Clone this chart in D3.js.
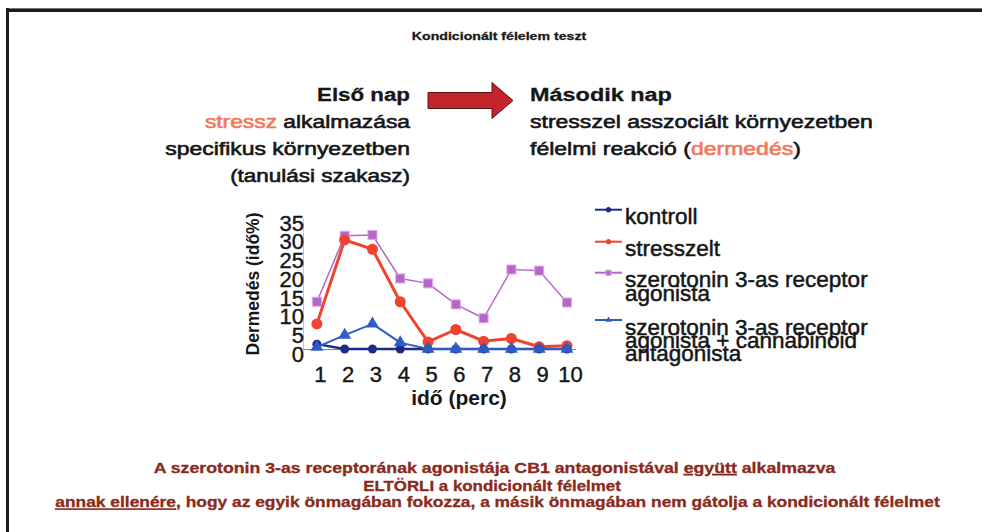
<!DOCTYPE html>
<html>
  <head>
    <meta charset="utf-8" />
    <title>Kondicionált félelem teszt</title>
    <script src="https://d3js.org/d3.v7.min.js"></script>
    <style>
      body { margin: 0; background: #fff; }
      svg { display: block; font-family: "Liberation Sans", Arial, sans-serif; }
    </style>
  </head>
  <body>
    <svg id="chart"></svg>
    <script>
      // data
      const minutes = [1, 2, 3, 4, 5, 6, 7, 8, 9, 10];
      const kontroll = [1.3, 0, 0, 0, 0, 0, 0, 0, 0, 0];
      const stresszelt = [6.7, 29.1, 26.6, 12.6, 1.9, 5.2, 2.1, 2.8, 0.6, 0.9];
      const agonista = [12.6, 30.2, 30.4, 18.8, 17.5, 11.9, 8.2, 21.2, 20.9, 12.4];
      const kombinalt = [0.5, 3.7, 6.7, 1.7, 0, 0, 0, 0, 0, 0];
      const yTicks = [0, 5, 10, 15, 20, 25, 30, 35];

      const seriesNames = [
        ["kontroll"],
        ["stresszelt"],
        ["szerotonin 3-as receptor", "agonista"],
        ["szerotonin 3-as receptor", "agonista + cannabinoid", "antagonista"]
      ];

      const W = 982, H = 532;
      const svg = d3.select("#chart").attr("width", W).attr("height", H);

      // stretch a text (wrapped in a g) horizontally so it spans a given width
      function fitText(g, x, target, anchor) {
        const w = g.node().getBBox().width;
        const s = target / w;
        g.attr("transform", "translate(" + x + ",0) scale(" + s + ",1)");
        g.select("text").attr("text-anchor", anchor);
      }
      function line(parent, baseline, size, weight, color, parts, sw) {
        const g = parent.append("g");
        const t = g.append("text")
          .attr("x", 0).attr("y", baseline)
          .attr("font-size", size).attr("font-weight", weight)
          .attr("fill", color);
        if (sw) t.attr("stroke", color).attr("stroke-width", sw);
        parts.forEach(function (p) {
          const ts = t.append("tspan").text(p.t);
          if (p.c) ts.attr("fill", p.c).attr("stroke", p.c);
          if (p.u) ts.attr("text-decoration", "underline");
        });
        return g;
      }

      // frame
      svg.append("rect").attr("x", 6).attr("y", 8).attr("width", W - 6).attr("height", 1).attr("fill", "#777");
      svg.append("rect").attr("x", 6).attr("y", 9).attr("width", W - 6).attr("height", 3).attr("fill", "#1c1a1a");
      svg.append("rect").attr("x", 6).attr("y", 8).attr("width", 3).attr("height", H - 8).attr("fill", "#1c1a1a");

      // title
      let g = line(svg, 40.5, 11, "bold", "#1a1a1a", [{ t: "Kondicionált félelem teszt" }], 0.3);
      g.select("text").attr("text-anchor", "middle");
      fitText(g, 499, 175, "middle");

      // header blocks
      const salmon = "#f2785a";
      const ink = "#161616";
      g = line(svg, 101, 18.5, "bold", ink, [{ t: "Első nap" }], 0.3);
      g.select("text").attr("text-anchor", "end");
      fitText(g, 410, 93, "end");
      g = line(svg, 128, 18.5, "normal", ink, [{ t: "stressz", c: salmon }, { t: " alkalmazása" }], 0.6);
      g.select("text").attr("text-anchor", "end");
      fitText(g, 410, 206, "end");
      g = line(svg, 155, 18.5, "normal", ink, [{ t: "specifikus környezetben" }], 0.6);
      g.select("text").attr("text-anchor", "end");
      fitText(g, 410, 245, "end");
      g = line(svg, 182, 18.5, "normal", ink, [{ t: "(tanulási szakasz)" }], 0.6);
      g.select("text").attr("text-anchor", "end");
      fitText(g, 410, 180, "end");

      g = line(svg, 101, 18.5, "bold", ink, [{ t: "Második nap" }], 0.3);
      fitText(g, 530, 142, "start");
      g = line(svg, 128, 18.5, "normal", ink, [{ t: "stresszel asszociált környezetben" }], 0.6);
      fitText(g, 530, 343, "start");
      g = line(svg, 155, 18.5, "normal", ink, [{ t: "félelmi reakció (" }, { t: "dermedés", c: salmon }, { t: ")" }], 0.6);
      fitText(g, 530, 271, "start");

      // arrow
      svg.append("path")
        .attr("d", "M428,92.5 L492,92.5 L492,82.5 L513,100.5 L492,118.5 L492,108.5 L428,108.5 Z")
        .attr("fill", "#c3252a").attr("stroke", "#5a1414").attr("stroke-width", 1);

      // chart
      const x = d3.scaleLinear().domain([0.5, 10.3]).range([303, 575.3]);
      const y = d3.scaleLinear().domain([0, 35]).range([349, 217.75]);

      const yAxis = svg.append("g")
        .attr("transform", "translate(303,0)")
        .call(d3.axisLeft(y).tickValues(yTicks).tickSize(0).tickPadding(0));
      yAxis.select(".domain").attr("stroke", "#bcc6d8").attr("stroke-width", 1);
      yAxis.selectAll("text")
        .attr("font-size", 22).attr("font-family", "Liberation Sans, Arial, sans-serif")
        .attr("fill", ink).attr("stroke", ink).attr("stroke-width", 0.4)
        .attr("dy", "0.56em").attr("x", 1);

      const xAxis = svg.append("g")
        .attr("transform", "translate(0," + y(0) + ")")
        .call(d3.axisBottom(x).tickValues(minutes).tickSize(0).tickPadding(17));
      xAxis.select(".domain").attr("stroke", "#5f86c4").attr("stroke-width", 1.2);
      xAxis.selectAll("text")
        .attr("font-size", 22).attr("font-family", "Liberation Sans, Arial, sans-serif")
        .attr("fill", ink).attr("stroke", ink).attr("stroke-width", 0.4).attr("dx", 3);

      svg.append("text")
        .attr("x", 459).attr("y", 405)
        .attr("text-anchor", "middle").attr("font-size", 21).attr("font-weight", "bold")
        .attr("fill", ink).text("idő (perc)");

      svg.append("text")
        .attr("transform", "translate(259,284) rotate(-90)")
        .attr("text-anchor", "middle").attr("font-size", 17.5).attr("font-weight", "bold")
        .attr("fill", ink).text("Dermedés (idő%)");

      const styles = [
        { data: kontroll, color: "#1e2a8a", width: 2.5, shape: "circle", r: 4.5 },
        { data: stresszelt, color: "#f0432f", width: 3, shape: "circle", r: 5.5 },
        { data: agonista, color: "#b566c8", width: 1.5, shape: "square", r: 4.5 },
        { data: kombinalt, color: "#2e5cc6", width: 2, shape: "triangle", r: 5.5 }
      ];
      const drawOrder = [2, 1, 0, 3];
      const lineGen = d3.line().x(function (d, i) { return x(minutes[i]); }).y(function (d) { return y(d); });

      function marker(sel, s, cx, cy, r) {
        if (s.shape === "circle") {
          sel.append("circle").attr("cx", cx).attr("cy", cy).attr("r", r).attr("fill", s.color);
        } else if (s.shape === "square") {
          sel.append("rect").attr("x", cx - r).attr("y", cy - r).attr("width", 2 * r).attr("height", 2 * r)
            .attr("fill", s.color).attr("stroke", "#dca6e6").attr("stroke-width", 1);
        } else {
          sel.append("path")
            .attr("d", d3.symbol().type(d3.symbolTriangle).size(r * r * 2.4)())
            .attr("transform", "translate(" + cx + "," + cy + ")")
            .attr("fill", s.color);
        }
      }

      drawOrder.forEach(function (k) {
        const s = styles[k];
        const sg = svg.append("g");
        sg.append("path").attr("d", lineGen(s.data))
          .attr("fill", "none").attr("stroke", s.color).attr("stroke-width", s.width)
          .attr("stroke-linejoin", "round");
        s.data.forEach(function (v, i) { marker(sg, s, x(minutes[i]), y(v), s.r); });
      });

      // legend
      const legendMarkY = [209.7, 241.7, 272.7, 320];
      legendMarkY.forEach(function (my, k) {
        const s = styles[k];
        const lg = svg.append("g");
        lg.append("line").attr("x1", 595).attr("x2", 622).attr("y1", my).attr("y2", my)
          .attr("stroke", s.color).attr("stroke-width", 2);
        marker(lg, s, 608.5, my, 2.6);
        const t = lg.append("text").attr("font-size", 22.5).attr("fill", ink)
          .attr("stroke", ink).attr("stroke-width", 0.5);
        seriesNames[k].forEach(function (nm, j) {
          t.append("tspan").attr("x", 625).attr("y", my + 14.5 + j * 13.3).text(nm);
        });
      });

      // conclusion text
      const brown = "#8a2a1b";
      g = line(svg, 473, 14.5, "bold", brown, [
        { t: "A szerotonin 3-as receptorának agonistája CB1 antagonistával " },
        { t: "együtt", u: true },
        { t: " alkalmazva" }
      ], 0.3);
      g.select("text").attr("text-anchor", "middle");
      fitText(g, 494.5, 683, "middle");
      g = line(svg, 491.5, 14.5, "bold", brown, [{ t: "ELTÖRLI a kondicionált félelmet" }], 0.3);
      g.select("text").attr("text-anchor", "middle");
      fitText(g, 492, 258, "middle");
      g = line(svg, 507.5, 14.5, "bold", brown, [
        { t: "annak ellenére", u: true },
        { t: ", hogy az egyik önmagában fokozza, a másik önmagában nem gátolja a kondicionált félelmet" }
      ], 0.3);
      g.select("text").attr("text-anchor", "middle");
      fitText(g, 497.5, 885, "middle");
    </script>
  </body>
</html>
